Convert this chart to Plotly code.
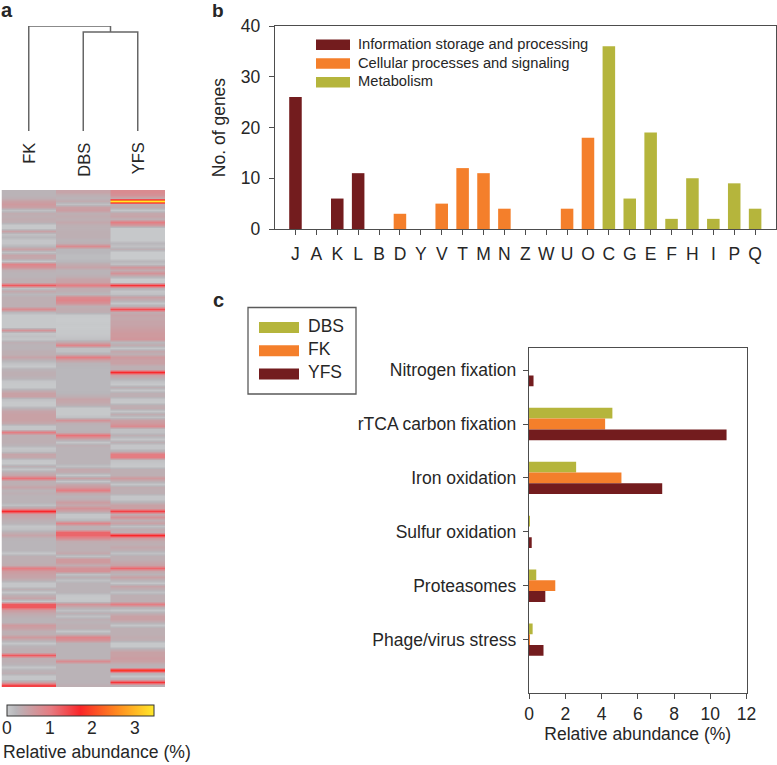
import plotly.graph_objects as go

# panel a, one value per heatmap row, top to bottom
samples = ["FK", "DBS", "YFS"]
fk = [.25,.25,.3,.5,.6,.5,.1,.35,.3,.35,.3,.02,.02,.5,.1,.2,.05,.05,.2,.5,
      .1,.45,.4,.05,.9,.7,.3,.25,.25,.3,.3,1.3,.1,.4,.2,.3,.3,.3,.3,.8,
      .2,.02,.02,.02,.02,.02,.7,.05,.1,.05,.3,.25,.25,
      .3,.3,.45,.25,.1,.02,.25,.3,.3,.25,.05,.02,.02,.3,.5,.5,.1,.02,.02,.25,.45,
      .5,.5,.5,.4,.05,.05,1.0,.3,.3,.3,.25,.05,.1,.45,.4,.05,.02,.3,.05,.3,.45,1.1,
      .3,.3,.45,.25,.3,.25,.25,.25,.1,.5,1.7,.5,.4,.3,
      .25,.05,.1,.3,.45,.25,.22,.22,.22,.22,.05,.3,.3,.3,.35,1.0,.6,.5,.45,.3,
      .05,.05,.3,.05,.3,.45,.05,1.3,1.3,.6,.4,.3,.25,.25,.6,.5,.3,.3,.6,.3,
      .05,.25,.3,.3,1.3,.3,.3,.25,.05,.25,.3,.05,.05,.5,1.5]
dbs = [.45,.3,.25,.35,.1,.5,.55,.3,.35,.3,.4,.3,.28,.3,.3,.3,.25,.3,.8,.2,
       .2,.15,.15,.2,.35,.45,.25,.25,.3,.45,.5,1.0,.35,.3,.2,.8,.9,.7,.3,.35,
       .3,.02,0,0,.02,0,.02,.02,.05,.1,.4,.9,.1,
       .1,.3,1.0,.5,.25,.22,.2,.2,.2,.2,.2,.2,.2,.2,.22,.3,.45,.4,.3,.02,.02,.02,.1,
       .7,.3,.25,.25,.3,1.1,.4,.05,.3,.25,.25,.25,.25,.25,.25,.1,.4,.35,.05,.5,
       .05,.4,.6,1.0,.4,.25,.3,.55,.4,.7,.45,.05,.05,.2,
       .9,.3,.3,1.2,1.2,.8,.35,.3,.3,.3,.4,.1,.6,.6,.35,.7,.7,.1,.3,.1,
       .25,.25,.25,.25,.05,.02,.05,.7,.35,.1,.3,.1,.3,.25,.3,.3,.05,.3,.9,.7,
       .25,.25,.25,.25,.25,.25,.8,.25,.25,.25,.25,.25,.25,.25,.3]
yfs = [.8,.7,.4,3.45,.3,.35,.05,.4,.45,.3,1.0,.6,.02,.02,.02,.02,.02,.2,.1,.3,
       0,0,0,.2,.1,.65,.35,.7,.3,0,0,1.6,.3,.05,.1,.5,.3,.05,.3,1.4,
       .35,.45,.4,.45,.45,.5,.55,.6,.6,.65,.2,.35,.05,
       .4,.3,.6,.5,.5,.3,.3,1.7,.5,.3,.1,.02,.3,.05,.3,.3,.05,.02,.3,.35,.05,
       .35,.1,.5,.6,.8,.1,.1,.3,.05,.3,.05,.05,.3,1.0,1.0,.1,.05,.02,.3,.3,.3,.6,
       .3,.05,.35,.3,.3,.05,.05,.25,.5,.5,1.5,.35,.7,.3,
       .5,.1,.35,.3,1.7,.6,.35,.3,.4,.3,.1,.3,.3,.4,.5,1.2,.4,.25,.5,.25,
       .05,.45,.3,.1,.3,.3,.3,1.0,.3,.05,.3,.5,.5,.3,.05,.3,.3,.3,.35,.3,
       .02,.02,.3,.5,.5,.55,.5,.3,.25,1.9,.3,.05,.3,1.6,.3]
abundance_ticks = [0, 1, 2, 3]
abundance_max = 3.45
# dendrogram merge heights
merge_top = 1.0
merge_inner = 0.943

# panel b
cog_letters = list("JAKLBDYVTMNZWUOCGEFHIPQ")
cog_genes = [26, 0, 6, 11, 0, 3, 0, 5, 12, 11, 4, 0, 0, 4, 18, 36, 6, 19, 2, 10, 2, 9, 4]
cog_group = [0, 0, 0, 0, 0, 1, 1, 1, 1, 1, 1, 1, 1, 1, 1, 2, 2, 2, 2, 2, 2, 2, 2]
group_names = ["Information storage and processing", "Cellular processes and signaling", "Metabolism"]

# panel c
functions = ["Nitrogen fixation", "rTCA carbon fixation", "Iron oxidation",
             "Sulfur oxidation", "Proteasomes", "Phage/virus stress"]
dbs_func = [0, 4.6, 2.6, 0.02, 0.4, 0.2]
fk_func = [0, 4.2, 5.1, 0, 1.45, 0.02]
yfs_func = [0.25, 10.9, 7.35, 0.15, 0.9, 0.8]

W, H = 777, 765
DARK = "#731c1e"
ORANGE = "#f47f2b"
OLIVE = "#b5b53c"
LINE = "#4d4d4d"
TEXT = "#262626"
FONT = "Liberation Sans"
group_colors = [DARK, ORANGE, OLIVE]


def px(x):
    return x / W


def py(y):
    return 1 - y / H


fig = go.Figure()

# heatmap, each column its own trace so the smoothing stays inside the column
rows = list(range(len(fk)))
for i, col in enumerate([fk, dbs, yfs]):
    fig.add_trace(go.Heatmap(z=[[v, v] for v in col], x=[i + 0.25, i + 0.75], y=rows, coloraxis="coloraxis",
                             zsmooth="best", hoverinfo="skip", xaxis="x", yaxis="y"))

# dendrogram
fig.add_trace(go.Scatter(x=[0.5, 0.5, 2.0, None, 1.5, 1.5, 2.5, 2.5, None, 2.0, 2.0],
                         y=[0, merge_top, merge_top, None, 0, merge_inner, merge_inner, 0, None, merge_inner, merge_top],
                         mode="lines", line=dict(color="#666666", width=1.5), xaxis="x", yaxis="y2",
                         hoverinfo="skip", showlegend=False))

# panel b
fig.add_trace(go.Bar(x=cog_letters, y=cog_genes, width=0.6, xaxis="x3", yaxis="y3",
                     marker=dict(color=[group_colors[g] for g in cog_group], line_width=0), showlegend=False))

# panel c
for name, vals, color in [("DBS", dbs_func, OLIVE), ("FK", fk_func, ORANGE), ("YFS", yfs_func, DARK)]:
    fig.add_trace(go.Bar(y=functions, x=vals, orientation="h", name=name, xaxis="x4", yaxis="y4",
                         marker=dict(color=color, line_width=0), showlegend=False))

shapes = []
annotations = []


def label(x, y, text, size=17.5, anchor="left"):
    annotations.append(dict(x=px(x), y=py(y), xref="paper", yref="paper", text=text, showarrow=False,
                            xanchor=anchor, yanchor="middle", font=dict(family=FONT, size=size, color=TEXT)))


def swatch(x0, y0, x1, y1, color):
    shapes.append(dict(type="rect", xref="paper", yref="paper", x0=px(x0), x1=px(x1), y0=py(y0), y1=py(y1),
                       fillcolor=color, line_width=0))


# panel letters
label(-1, 10, "<b>a</b>", size=20)
label(210, 11, "<b>b</b>", size=19)
label(211, 300, "<b>c</b>", size=20)

# sample labels
for i, s in enumerate(samples):
    annotations.append(dict(x=i + 0.5, y=py(140.5), xref="x", yref="paper", text=s, showarrow=False, textangle=-90,
                            xanchor="center", yanchor="top", font=dict(family=FONT, size=16.5, color=TEXT)))

# colorbar labels sit closer to the bar than the library puts them
for v in abundance_ticks:
    label(7 + v / abundance_max * 147, 728, str(v), anchor="center")
label(0.5, 752, "Relative abundance (%)", size=17.6)

# legend b
for i, name in enumerate(group_names):
    swatch(316, 39.5 + i * 18.7, 350, 50 + i * 18.7, group_colors[i])
    label(355.5, 44 + i * 18.7, name, size=14.7)

# legend c
shapes.append(dict(type="rect", xref="paper", yref="paper", x0=px(248), x1=px(356), y0=py(307.5), y1=py(394),
                   line=dict(color="#5a5a5a", width=1.3), fillcolor="white"))
for i, (name, color) in enumerate([("DBS", OLIVE), ("FK", ORANGE), ("YFS", DARK)]):
    swatch(259, 322 + i * 23.3, 299, 333 + i * 23.3, color)
    label(306, 326 + i * 23.2, name)

axis_font = dict(family=FONT, size=17.5, color=TEXT)
boxed = dict(showline=True, linecolor=LINE, linewidth=1.4, mirror=True, ticks="outside", ticklen=5,
             tickcolor=LINE, tickwidth=1.2, showgrid=False, zeroline=False, tickfont=axis_font)

fig.update_layout(
    width=W, height=H, margin=dict(l=0, r=0, t=0, b=0, autoexpand=False),
    paper_bgcolor="white", plot_bgcolor="white", font=dict(family=FONT, color=TEXT),
    barmode="group", bargap=0.4, bargroupgap=0, showlegend=False,
    shapes=shapes, annotations=annotations,
    coloraxis=dict(
        cmin=0, cmax=abundance_max,
        colorscale=[[0, "#c8cacc"], [0.06, "#b8b6ba"], [0.3, "#e67a80"], [0.5, "#fa2528"],
                    [0.75, "#ff8a1f"], [1, "#ffe92a"]],
        colorbar=dict(orientation="h", lenmode="pixels", len=147, thicknessmode="pixels", thickness=11,
                      x=px(80.5), xanchor="center", y=py(705), yanchor="top", xpad=0, ypad=0,
                      outlinecolor="#333333", outlinewidth=1, ticks="", showticklabels=False),
    ),
    xaxis=dict(domain=[px(1.5), px(165)], range=[0, 3], visible=False),
    yaxis=dict(domain=[py(687), py(190)], range=[len(fk) - 0.5, -0.5], visible=False),
    yaxis2=dict(domain=[py(131), py(26)], range=[0, merge_top], visible=False),
    xaxis3=dict(domain=[px(275), px(776)], range=[-0.98, 23], type="category", anchor="y3",
                categoryorder="array", categoryarray=cog_letters, tickvals=cog_letters, ticklabelstandoff=4, **boxed),
    yaxis3=dict(domain=[py(229), py(26)], range=[0, 40], tickvals=[0, 10, 20, 30, 40], anchor="x3",
                ticklabelstandoff=5, title=dict(text="No. of genes", font=axis_font, standoff=10), **boxed),
    xaxis4=dict(domain=[px(529), px(746.5)], range=[0, 12], tickvals=list(range(0, 13, 2)), anchor="y4",
                title=dict(text="Relative abundance (%)", font=axis_font, standoff=3), **boxed),
    yaxis4=dict(domain=[py(693), py(348)], range=[5.99, -0.41], type="category", anchor="x4",
                ticklabelstandoff=3, categoryorder="array", categoryarray=functions, **boxed),
)

fig.write_html("out.html", config=dict(displayModeBar=False), post_script="document.body.style.margin='0';")
